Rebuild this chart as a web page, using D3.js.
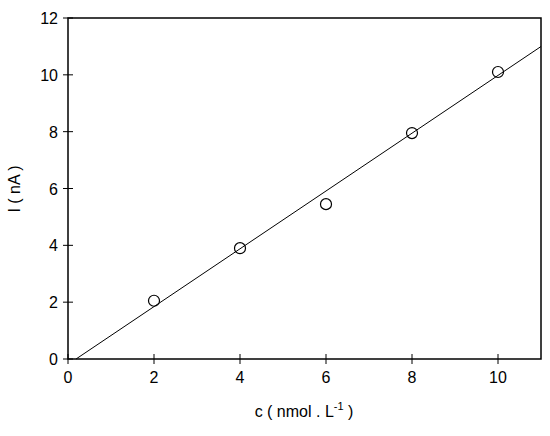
<!DOCTYPE html><html><head><script src="https://cdn.jsdelivr.net/npm/d3@7"></script>
<style>body{margin:0;background:#fff}text{font-family:Arial,"Liberation Sans",sans-serif}</style></head><body><svg width="550" height="436"></svg>
<script>
const cx=[2,4,6,8,10];
const iy=[2.05,3.9,5.45,7.95,10.1];
const fitSlope=1.017, fitIntercept=-0.19;
const xTicks=[0,2,4,6,8,10], yTicks=[0,2,4,6,8,10,12];
const svg=d3.select("svg");
const L=68,R=541,T=18,B=359;
const x=d3.scaleLinear([0,11],[L,R]), y=d3.scaleLinear([0,12],[B,T]);
svg.append("rect").attr("x",L).attr("y",T).attr("width",R-L).attr("height",B-T).attr("fill","none").attr("stroke","#000").attr("stroke-width",1.5);
xTicks.forEach(t=>{svg.append("line").attr("x1",x(t)).attr("x2",x(t)).attr("y1",B-5).attr("y2",B+5).attr("stroke","#000");
 svg.append("text").attr("x",x(t)).attr("y",B+24).attr("text-anchor","middle").attr("font-size",16).text(t);});
yTicks.forEach(t=>{svg.append("line").attr("x1",L-5).attr("x2",L+5).attr("y1",y(t)).attr("y2",y(t)).attr("stroke","#000");
 svg.append("text").attr("x",L-10).attr("y",y(t)+6).attr("text-anchor","end").attr("font-size",16).text(t);});
const x0=-fitIntercept/fitSlope;
svg.append("line").attr("x1",x(x0)).attr("y1",y(0)).attr("x2",x(11)).attr("y2",y(fitSlope*11+fitIntercept)).attr("stroke","#000");
svg.selectAll("circle").data(cx).join("circle").attr("cx",d=>x(d)).attr("cy",(d,i)=>y(iy[i])).attr("r",5.5).attr("fill","none").attr("stroke","#000").attr("stroke-width",1.2);
const xl=svg.append("text").attr("x",304).attr("y",417).attr("text-anchor","middle").attr("font-size",16);
xl.append("tspan").text("c ( nmol . L");xl.append("tspan").attr("dy",-7).attr("font-size",11).text("-1");xl.append("tspan").attr("dy",7).text(" )");
svg.append("text").attr("transform","translate(20,189) rotate(-90)").attr("text-anchor","middle").attr("font-size",16).text("I ( nA )");
</script></body></html>
